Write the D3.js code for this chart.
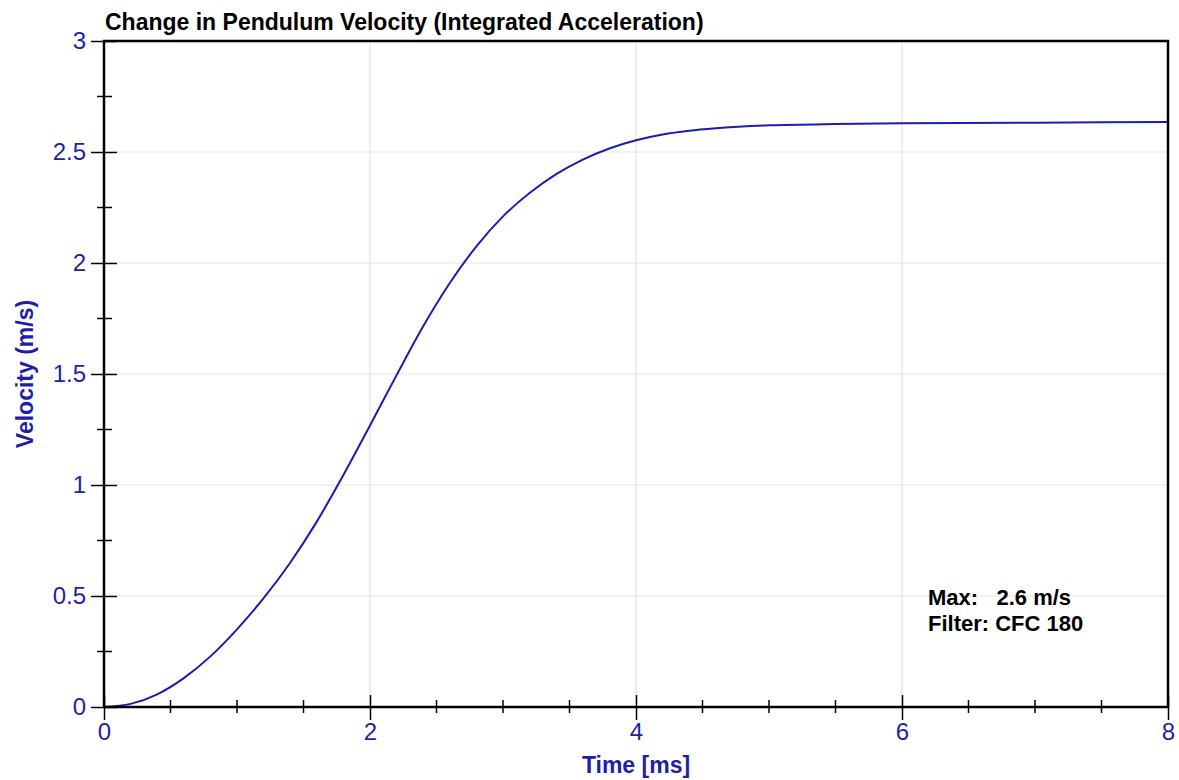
<!DOCTYPE html>
<html>
<head>
<meta charset="utf-8">
<script src="https://cdn.jsdelivr.net/npm/d3@7"></script>
<style>
  body { margin: 0; background: #fff; }
  svg { display: block; font-family: "Liberation Sans", Arial, sans-serif; }
</style>
</head>
<body>
<div id="chart"></div>
<script>
// ── Data ──
const timeMs = [0, 0.2, 0.4, 0.6, 0.8, 1.0, 1.2, 1.4, 1.6, 1.8, 2.0, 2.2, 2.4, 2.6, 2.8,
                3.0, 3.2, 3.4, 3.6, 3.8, 4.0, 4.2, 4.4, 4.6, 4.8, 5.0, 5.5, 6.0, 7.0, 8.0];
const velocity = [0, 0.014, 0.057, 0.13, 0.228, 0.35, 0.49, 0.65, 0.835, 1.045, 1.268, 1.495,
                  1.715, 1.91, 2.075, 2.21, 2.315, 2.4, 2.466, 2.516, 2.553, 2.579, 2.596,
                  2.607, 2.615, 2.62, 2.626, 2.629, 2.632, 2.635];

const xMajorTicks = [0, 2, 4, 6, 8];
const xMinorTicks = [0.5, 1, 1.5, 2.5, 3, 3.5, 4.5, 5, 5.5, 6.5, 7, 7.5];
const yMajorTicks = [0, 0.5, 1, 1.5, 2, 2.5, 3];
const yMinorTicks = [0.25, 0.75, 1.25, 1.75, 2.25, 2.75];
const annotationLines = ["Max:   2.6 m/s", "Filter: CFC 180"];

const WIDTH = 1179;
const HEIGHT = 780;
const margin = { top: 41, right: 11, bottom: 73, left: 104 };
const innerW = WIDTH - margin.left - margin.right;
const innerH = HEIGHT - margin.top - margin.bottom;

const BLUE = "#1f1fa6";

const svg = d3.select("#chart").append("svg")
    .attr("width", WIDTH)
    .attr("height", HEIGHT);

const g = svg.append("g").attr("transform", `translate(${margin.left},${margin.top})`);

const x = d3.scaleLinear().domain([0, 8]).range([0, innerW]);
const y = d3.scaleLinear().domain([0, 3]).range([innerH, 0]);

// ── Grid ──
g.append("g").selectAll("line.vgrid")
    .data(xMajorTicks.slice(1, -1))
    .join("line")
    .attr("x1", d => x(d)).attr("x2", d => x(d))
    .attr("y1", 0).attr("y2", innerH)
    .attr("stroke", "#e3e3e3").attr("stroke-width", 1.2);

g.append("g").selectAll("line.hgrid")
    .data(yMajorTicks.slice(1, -1))
    .join("line")
    .attr("x1", 0).attr("x2", innerW)
    .attr("y1", d => y(d)).attr("y2", d => y(d))
    .attr("stroke", "#e3e3e3").attr("stroke-width", 1.2);

// ── Curve ──
const line = d3.line()
    .x((d, i) => x(timeMs[i]))
    .y(d => y(d))
    .curve(d3.curveMonotoneX);

g.append("path")
    .datum(velocity)
    .attr("fill", "none")
    .attr("stroke", "#1c1cae")
    .attr("stroke-width", 2)
    .attr("d", line);

// ── Frame ──
g.append("rect")
    .attr("width", innerW).attr("height", innerH)
    .attr("fill", "none").attr("stroke", "#000").attr("stroke-width", 2.5);

// ── Axes ──
const xAxis = g.append("g")
    .attr("transform", `translate(0,${innerH})`)
    .call(d3.axisBottom(x).tickValues(xMajorTicks).tickFormat(d3.format("d")).tickSize(13).tickPadding(3));
xAxis.select(".domain").remove();
xAxis.selectAll(".tick line").attr("y1", -12).attr("stroke", "#000").attr("stroke-width", 1.5);
xAxis.selectAll(".tick text")
    .attr("fill", BLUE).style("font-size", "24px");

g.append("g").selectAll("line.xminor")
    .data(xMinorTicks)
    .join("line")
    .attr("x1", d => x(d)).attr("x2", d => x(d))
    .attr("y1", innerH - 7).attr("y2", innerH + 6)
    .attr("stroke", "#000").attr("stroke-width", 1.5);

const yAxis = g.append("g")
    .call(d3.axisLeft(y).tickValues(yMajorTicks).tickFormat(d => d).tickSize(13).tickPadding(5));
yAxis.select(".domain").remove();
yAxis.selectAll(".tick line").attr("x1", 13).attr("stroke", "#000").attr("stroke-width", 1.5);
yAxis.selectAll(".tick text")
    .attr("fill", BLUE).style("font-size", "24px");

g.append("g").selectAll("line.yminor")
    .data(yMinorTicks)
    .join("line")
    .attr("x1", -7).attr("x2", 8)
    .attr("y1", d => y(d)).attr("y2", d => y(d))
    .attr("stroke", "#000").attr("stroke-width", 1.5);

// ── Labels ──
svg.append("text")
    .attr("x", 105).attr("y", 30)
    .attr("font-size", 23).attr("font-weight", "bold").attr("fill", "#000")
    .text("Change in Pendulum Velocity (Integrated Acceleration)");

svg.append("text")
    .attr("x", margin.left + innerW / 2).attr("y", 773)
    .attr("text-anchor", "middle")
    .attr("font-size", 23).attr("font-weight", "bold").attr("fill", BLUE)
    .text("Time [ms]");

svg.append("text")
    .attr("transform", `translate(33,${margin.top + innerH / 2}) rotate(-90)`)
    .attr("text-anchor", "middle")
    .attr("font-size", 23).attr("font-weight", "bold").attr("fill", BLUE)
    .text("Velocity (m/s)");

svg.append("g").selectAll("text")
    .data(annotationLines)
    .join("text")
    .attr("x", 928).attr("y", (d, i) => 605 + i * 26)
    .attr("font-size", 22).attr("font-weight", "bold").attr("fill", "#000")
    .attr("xml:space", "preserve")
    .style("white-space", "pre")
    .text(d => d);
</script>
</body>
</html>
